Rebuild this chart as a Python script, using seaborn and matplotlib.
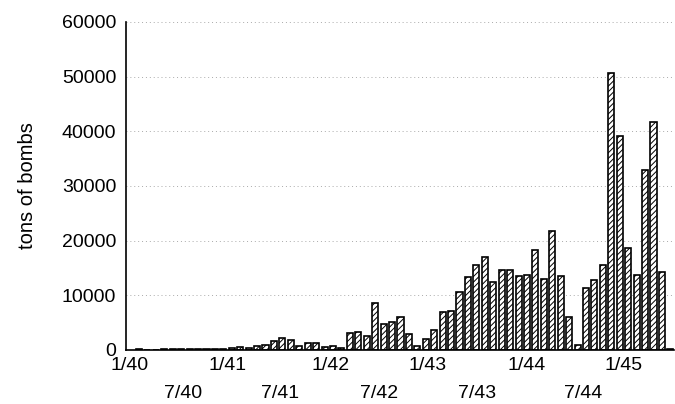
import matplotlib
matplotlib.use("Agg")
import matplotlib.pyplot as plt
import seaborn as sns
import pandas as pd

# Monthly bars, in order from the first bar (1/40)
months = [f"{m}/{y}" for y in range(40, 46) for m in range(1, 13)][:64]
tons = [
    150, 0, 0, 150, 250, 150, 150, 150, 150, 150,
    250, 350, 550, 400, 750, 850, 1650, 2250, 1900, 750,
    1200, 1300, 600, 770, 370, 3200, 3300, 2600, 8600, 4800,
    5200, 6100, 3000, 750, 2050, 3700, 6900, 7050, 10700, 13400,
    15600, 17000, 12350, 14700, 14700, 13550, 13750, 18250, 13000, 21700,
    13500, 5950, 870, 11350, 12850, 15550, 50750, 39150, 18750, 13750,
    32900, 41750, 14250, 180,
]
y_ticks = [0, 10000, 20000, 30000, 40000, 50000, 60000]
jan_labels = ["1/40", "1/41", "1/42", "1/43", "1/44", "1/45"]
jul_labels = ["7/40", "7/41", "7/42", "7/43", "7/44"]
# label anchor positions on the bar index axis (as placed in the reference)
jan_pos = [-1.07, 10.5, 22.7, 34.2, 45.9, 57.5]
jul_pos = [5.2, 16.7, 28.5, 40.1, 52.7]

df = pd.DataFrame({"month": months, "tons": tons})

sns.set_theme(style="white")
plt.rcParams["font.family"] = ["Liberation Sans", "DejaVu Sans"]
plt.rcParams["hatch.linewidth"] = 0.7

fig = plt.figure(figsize=(6.75, 4.04), dpi=100)
ax = fig.add_axes([126 / 675, 54 / 404, 548 / 675, 328 / 404])

sns.barplot(data=df, x="month", y="tons", order=months, color="white",
            saturation=1, width=0.72, edgecolor="black", linewidth=1.2,
            hatch="//////", ax=ax, zorder=2)

ax.set_xlim(-1.54, 63.43)
ax.set_ylim(0, 60000)
ax.set_yticks(y_ticks)
ax.set_yticklabels([str(v) for v in y_ticks])
ax.yaxis.grid(True, color="#aaaaaa", linestyle=(0, (1, 3)), linewidth=0.7)
ax.set_axisbelow(True)

ax.set_xticks(jan_pos, labels=jan_labels)
ax.set_xticks(jul_pos, labels=jul_labels, minor=True)
ax.tick_params(axis="x", which="major", length=0, pad=5, labelsize=14, colors="black")
ax.tick_params(axis="x", which="minor", length=0, pad=25, labelsize=14, colors="black")
ax.tick_params(axis="y", length=0, pad=7, labelsize=14, colors="black")

for s in ["top", "right"]:
    ax.spines[s].set_visible(False)
for s in ["left", "bottom"]:
    ax.spines[s].set_color("black")
    ax.spines[s].set_linewidth(1.2)

ax.set_xlabel("")
ax.set_ylabel("tons of bombs", fontsize=14.5, color="black", labelpad=18)

fig.savefig("out.png", dpi=100)
